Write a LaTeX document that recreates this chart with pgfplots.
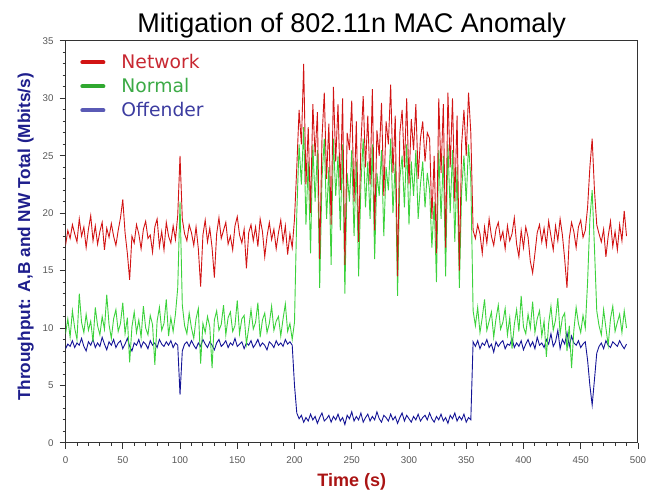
\documentclass[border=0pt]{standalone}
\usepackage{pgfplots}
\usepackage{pgfplotstable}
\pgfplotsset{compat=1.18}
\usepackage{fontspec}
\setmainfont{Liberation Sans}
\setsansfont{Liberation Sans}
\newfontfamily\legfont{DejaVu Sans}

\definecolor{netred}{RGB}{210,20,20}
\definecolor{normgreen}{RGB}{60,210,60}
\definecolor{offblue}{RGB}{20,20,150}
\definecolor{ylab}{RGB}{30,30,140}
\definecolor{xlab}{RGB}{170,20,20}
\definecolor{legred}{RGB}{200,40,50}
\definecolor{leggreen}{RGB}{60,170,70}
\definecolor{legblue}{RGB}{60,60,160}

% t, network total, normal node, offender node
\pgfplotstableread{
t net norm off
0 17.2 9.5 8.2
2 18.5 10.8 8.6
4 17.8 9.2 8.4
6 19.0 11.5 8.9
8 18.2 10.0 8.3
10 17.5 9.0 8.7
12 19.5 13.0 8.5
14 18.0 10.5 9.1
16 18.8 9.6 8.4
18 17.0 11.2 8.0
20 18.6 9.8 8.8
22 19.8 10.6 8.5
24 17.6 8.8 9.0
26 18.9 11.8 8.3
28 17.3 10.2 8.7
30 18.4 9.4 8.4
32 19.2 11.0 9.2
34 16.8 9.9 8.6
36 18.7 12.9 8.1
38 17.9 10.3 8.8
40 19.1 9.1 8.5
42 18.0 10.8 9.0
44 17.2 11.6 8.3
46 18.5 9.7 8.7
48 19.6 10.4 8.9
50 21.2 12.2 8.2
52 18.3 9.5 8.6
54 16.5 10.9 9.1
56 14.2 7.0 8.4
58 18.0 10.1 8.0
60 17.4 11.4 8.7
62 19.0 9.6 8.5
64 18.2 10.7 9.0
66 16.9 9.2 8.3
68 18.6 11.9 8.8
70 19.3 10.0 8.6
72 17.8 9.4 8.2
74 18.1 11.1 8.9
76 16.6 10.3 8.5
78 18.8 6.8 8.7
80 19.5 10.6 8.3
82 17.1 11.8 9.0
84 18.4 9.8 8.6
86 16.8 10.4 8.4
88 19.2 12.5 8.8
90 18.0 9.3 8.5
92 17.4 10.9 8.9
94 18.9 9.7 8.3
96 17.7 11.2 8.7
98 19.8 13.5 8.5
100 25.0 21.0 4.2
102 19.5 12.0 8.0
104 18.2 10.2 8.6
106 17.6 9.5 8.8
108 19.0 11.3 8.4
110 18.3 10.0 8.9
112 17.2 9.1 8.5
114 18.8 10.8 8.2
116 16.9 11.7 8.7
118 13.6 6.9 8.4
120 18.1 10.4 9.0
122 19.4 9.6 8.6
124 17.5 11.0 8.3
126 18.7 10.1 8.8
128 17.0 6.5 8.5
130 14.4 10.7 8.1
132 18.2 11.5 8.7
134 19.6 9.8 9.0
136 17.8 10.3 8.4
138 18.5 12.0 8.6
140 19.2 9.4 8.9
142 17.3 10.9 8.3
144 18.0 11.4 8.7
146 16.8 9.7 8.5
148 18.9 10.2 9.1
150 19.7 12.4 8.4
152 18.1 9.5 8.6
154 17.4 10.8 8.8
156 18.6 11.1 8.2
158 15.2 8.6 8.7
160 18.3 10.0 8.5
162 19.0 11.6 8.9
164 17.6 9.9 8.3
166 18.8 10.5 8.6
168 17.1 12.2 9.0
170 19.5 9.2 8.4
172 18.4 10.7 8.7
174 16.2 11.3 8.5
176 18.0 9.6 8.1
178 19.2 10.4 8.8
180 17.7 11.9 8.6
182 18.6 9.8 8.3
184 16.9 10.6 8.9
186 18.3 11.0 8.5
188 19.4 9.3 8.7
190 17.5 10.8 8.4
192 18.9 12.1 9.0
194 16.4 9.7 8.6
196 18.2 10.4 8.8
198 17.0 9.0 8.5
200 19.5 10.5 5.0
202 24.0 20.0 2.6
204 29.0 26.0 2.1
206 26.0 22.5 2.4
208 33.0 27.5 1.8
210 22.5 19.0 2.2
212 27.5 24.5 1.9
214 20.0 16.5 2.5
216 29.5 26.0 2.0
218 25.0 21.0 2.3
220 28.8 25.5 1.7
222 16.0 13.5 2.2
224 26.5 23.0 2.6
226 30.5 26.5 1.9
228 23.0 19.5 2.1
230 27.8 24.0 2.4
232 19.0 15.5 1.8
234 31.0 26.5 2.3
236 24.5 21.5 2.0
238 29.5 25.0 2.5
240 22.0 18.5 1.9
242 30.0 26.0 2.2
244 15.5 13.0 1.6
246 27.0 23.5 2.4
248 25.5 21.0 2.1
250 29.8 25.5 2.7
252 21.0 18.0 1.9
254 28.0 24.5 2.3
256 17.5 14.5 2.0
258 26.0 22.5 2.6
260 30.2 26.5 1.8
262 24.0 20.5 2.2
264 28.5 24.5 2.5
266 22.5 19.5 1.9
268 30.8 26.0 2.3
270 18.5 16.0 2.0
272 27.2 23.5 2.7
274 25.0 21.5 2.1
276 29.6 25.5 1.8
278 21.5 18.0 2.4
280 28.0 24.0 2.2
282 26.0 22.0 1.9
284 31.2 26.5 2.5
286 23.5 20.0 2.0
288 28.5 24.5 2.3
290 14.5 12.8 1.7
292 27.0 23.0 2.2
294 29.0 25.0 2.6
296 24.0 20.5 1.9
298 30.0 26.0 2.4
300 22.5 19.0 2.1
302 28.2 24.5 1.8
304 25.5 21.5 2.3
306 29.5 25.5 2.0
308 23.0 19.5 2.5
310 26.5 22.5 1.9
312 28.0 24.5 2.2
314 24.5 20.5 2.4
316 27.0 23.5 2.0
318 26.5 22.0 2.6
320 19.5 17.0 2.1
322 25.0 21.0 1.8
324 16.5 14.0 2.3
326 30.0 25.5 2.0
328 23.5 19.5 2.5
330 29.5 25.0 1.9
332 17.0 14.5 2.2
334 30.5 26.0 1.7
336 24.0 20.0 2.4
338 30.0 25.5 2.1
340 21.0 17.5 2.6
342 28.5 24.0 1.9
344 15.0 13.5 2.3
346 26.0 22.0 2.0
348 29.0 25.0 2.5
350 25.0 21.0 1.8
352 30.5 26.0 2.2
354 27.0 23.0 2.0
356 18.5 11.5 8.8
358 17.8 10.2 8.4
360 19.0 11.8 8.9
362 18.2 9.6 8.2
364 16.5 10.9 8.7
366 18.8 12.5 8.5
368 17.4 9.8 9.0
370 19.5 10.6 8.3
372 18.0 11.4 8.6
374 17.2 9.2 7.9
376 18.6 10.8 8.8
378 19.2 12.0 8.4
380 17.7 9.9 8.7
382 18.4 10.5 8.9
384 16.9 11.7 8.2
386 18.9 9.4 8.6
388 17.6 10.9 8.5
390 18.2 8.2 9.1
392 19.6 10.3 8.3
394 17.3 11.6 8.7
396 16.2 9.7 8.4
398 18.5 12.8 8.9
400 17.0 10.1 8.1
402 18.8 9.5 8.6
404 17.9 11.2 9.0
406 15.8 10.0 8.4
408 14.8 12.3 8.8
410 16.5 9.6 8.2
412 18.3 10.8 9.2
414 19.0 11.5 8.5
416 17.5 9.3 8.7
418 18.7 10.6 8.3
420 17.2 7.5 9.0
422 19.3 10.4 8.6
424 18.0 11.9 9.5
426 16.8 9.8 8.4
428 18.9 10.7 8.8
430 17.6 12.6 9.8
432 19.5 9.5 8.2
434 18.1 10.9 9.0
436 16.0 11.3 8.6
438 13.5 8.0 9.6
440 17.8 10.2 8.4
442 19.2 6.5 9.3
444 18.4 9.8 8.7
446 17.0 11.8 8.5
448 18.8 10.4 8.9
450 19.4 9.6 8.3
452 17.9 11.1 8.6
454 18.5 10.0 8.8
456 20.5 14.0 7.2
458 24.0 19.5 5.0
460 26.5 22.0 3.3
462 22.0 17.0 5.5
464 19.0 11.5 7.8
466 18.2 10.2 8.4
468 17.5 9.4 8.7
470 18.6 11.6 8.2
472 16.2 10.0 8.9
474 18.0 8.5 8.5
476 19.3 10.8 8.3
478 17.1 11.9 8.8
480 18.4 9.7 8.6
482 16.8 10.5 8.4
484 19.0 11.2 8.9
486 17.6 9.6 8.5
488 20.2 11.5 8.2
490 18.0 10.0 8.6
}\mactable

\begin{document}
\begin{tikzpicture}
\begin{axis}[
  name=ax,
  scale only axis,
  width=381.7pt, height=268pt,
  xmin=0, xmax=500, ymin=0, ymax=35,
  xtick={0,50,...,500}, ytick={0,5,...,35},
  minor x tick num=4, minor y tick num=4,
  xtick pos=bottom, ytick pos=left,
  tick align=outside,
  major tick length=4pt, minor tick length=2pt,
  axis line style={black!80, line width=0.7pt},
  tick style={black!80, line width=0.6pt},
  /pgf/number format/assume math mode=true,
  ticklabel style={font=\fontsize{6.5}{7.5}\selectfont, text=black!65},
  xticklabel style={yshift=-1.5pt},
  yticklabel style={xshift=-0.5pt},
  title={Mitigation of 802.11n MAC Anomaly},
  title style={font=\fontsize{18}{21}\selectfont, at={(axis description cs:0.5,1.0198)}, anchor=base, yshift=-5.5pt},
  xlabel={Time (s)},
  xlabel style={font=\fontsize{12}{14}\selectfont\bfseries, text=xlab,
    at={(axis description cs:0.5,-0.1093)}, anchor=base},
  ylabel={Throughput: A,B and NW Total (Mbits/s)},
  ylabel style={font=\fontsize{11.5}{14}\selectfont\bfseries, text=ylab,
    at={(axis description cs:-0.0618,0.5123)}, anchor=base},
  legend style={draw=none, fill=none, at={(axis description cs:0.0254,0.968)}, anchor=north west,
    font=\fontsize{12.5}{14}\selectfont\legfont, row sep=5pt, inner sep=0pt,
    nodes={inner sep=0pt},
    /tikz/every odd column/.append style={column sep=10.7pt}},
  legend image code/.code={\draw[line width=2.8pt, line cap=round] (1.4pt,0pt) -- (15.3pt,0pt);},
  legend cell align=left,
]
\addlegendimage{color=netred}
\addlegendentry{\textcolor{legred}{Network}}
\addlegendimage{color=normgreen!80!black}
\addlegendentry{\textcolor{leggreen}{Normal}}
\addlegendimage{color=offblue!70!white}
\addlegendentry{\textcolor{legblue}{Offender}}

\addplot[offblue, line width=0.6pt, forget plot] table[x=t, y=off] {\mactable};
\addplot[normgreen, line width=0.6pt, forget plot] table[x=t, y=norm] {\mactable};
\addplot[netred, line width=0.6pt, forget plot] table[x=t, y=net] {\mactable};
\end{axis}
\pgfresetboundingbox
\path ([shift={(-43.7pt,-36pt)}]ax.south west) rectangle ([shift={(6.7pt,27.3pt)}]ax.north east);
\end{tikzpicture}
\end{document}
